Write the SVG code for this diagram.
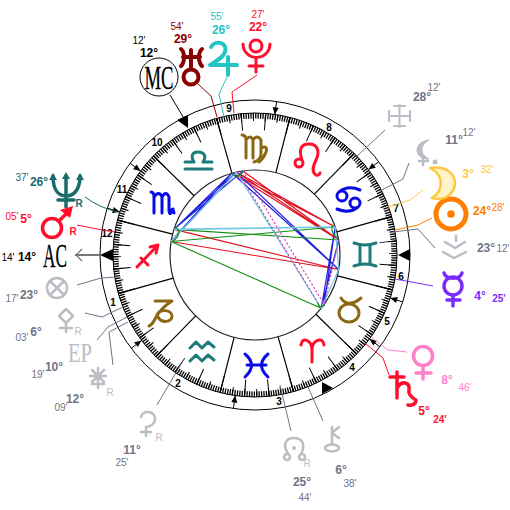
<svg xmlns="http://www.w3.org/2000/svg" width="510" height="510" viewBox="0 0 510 510">
<style>
text{font-family:"Liberation Sans",Arial,sans-serif;text-anchor:middle}
.d{font-size:12px;font-weight:bold}
.m{font-size:10px}
.h{font-size:10px;fill:#000;font-weight:bold}
.r{font-size:10px}
.cond{font-family:"Liberation Serif","Times New Roman",serif;font-size:33px;stroke-width:.3}
.ring{fill:none;stroke:#000;stroke-width:1}
.sp{fill:none;stroke-linecap:round;stroke-linejoin:round}
.lead{fill:none;stroke-width:1}
.asp{fill:none;stroke-width:1.2}
.gl{fill:none;stroke:#babdc4;stroke-width:2.5;stroke-linecap:round;stroke-linejoin:round}
.gt{fill:#707488}
.lg{fill:#babdc4}
.brown{fill:none;stroke:#8b6914;stroke-width:3;stroke-linecap:round;stroke-linejoin:round}
.rd{fill:none;stroke:#ff0f2d;stroke-width:3;stroke-linecap:round;stroke-linejoin:round}
.bl{fill:none;stroke:#0a0ae6;stroke-width:3;stroke-linecap:round;stroke-linejoin:round}
.tl{fill:none;stroke:#1f7a7a;stroke-width:3;stroke-linecap:round;stroke-linejoin:round}
</style>
<rect width="510" height="510" fill="#fff"/>
<g id="wheel">
<circle class="ring" cx="255" cy="255" r="155"/>
<circle class="ring" cx="255" cy="255" r="142"/>
<circle cx="255" cy="255" r="85" fill="none" stroke="#222" stroke-width="1.2"/>
<circle cx="255" cy="255" r="139.2" fill="none" stroke="#000" stroke-width="5.6" stroke-dasharray="1.3 1.1295" stroke-dashoffset="0.65" transform="rotate(-0.77 255 255)"/>
<circle cx="255" cy="255" r="138" fill="none" stroke="#000" stroke-width="8" stroke-dasharray="1 11.0427" stroke-dashoffset="0.5" transform="rotate(-0.77 255 255)"/>
<circle cx="255" cy="255" r="133.500" fill="none" stroke="#000" stroke-width="17" stroke-dasharray="1 22.2988" stroke-dashoffset="0.5" transform="rotate(-5.77 255 255)"/>
<path d="M336.8 231.9L391.7 216.4M314.3 194.1L354.1 153.3M275.9 172.6L289.9 117.4M231.9 173.2L216.4 118.3M194.1 195.7L153.3 155.9M172.6 234.1L117.4 220.1M173.2 278.1L118.3 293.6M195.7 315.9L155.9 356.7M234.1 337.4L220.1 392.6M278.1 336.8L293.6 391.7M315.9 314.3L356.7 354.1M337.4 275.9L392.6 289.9" fill="none" stroke="#000" stroke-width="1.2"/>
<path d="M100 255L113 249V261Z M177 120L188 115V128Z M398 255L410 249V261Z M333 388L322 382V394Z" fill="#000"/>
<path fill="none" stroke="#000" stroke-width="1" d="M276.600 101.500L274.800 114.400M233.400 408.500L235.200 395.600M130 163.200L140.500 170.900M380 346.800L369.500 339.100M107.300 208.100L119.700 212M402.700 301.900L390.300 298M378.800 161.700L368.400 169.500M131.200 348.300L141.600 340.500"/>
<path fill="#000" d="M274.800 114.400L278.700 107.900L272.700 107.100ZM235.200 395.600L231.300 402.100L237.300 402.900ZM140.500 170.900L136.700 164.400L133.100 169.200ZM369.500 339.100L373.300 345.600L376.900 340.800ZM119.700 212L113.900 207.100L112.100 212.900ZM390.300 298L396.100 302.900L397.900 297.100ZM368.400 169.500L375.800 167.700L372.200 162.900ZM141.600 340.500L134.200 342.300L137.800 347.100Z"/>
<text class="h" x="229" y="112">9</text><text class="h" x="157" y="146">10</text><text class="h" x="122" y="193">11</text><text class="h" x="107" y="237">12</text><text class="h" x="113" y="306">1</text><text class="h" x="178" y="387">2</text><text class="h" x="279" y="405">3</text><text class="h" x="352" y="371">4</text><text class="h" x="387" y="325">5</text><text class="h" x="401" y="280">6</text><text class="h" x="396" y="212">7</text><text class="h" x="329" y="131">8</text>
</g>
<g id="signs">
<path id="sign-sagittarius" class="rd" d="M137 267L157 246M150 247L158 245L156 253M141 258L148 265"/>
<path id="sign-scorpio" class="bl" d="M151 192Q154 192 154 197V213M154 197Q159 190 162 197V213M162 197Q166 190 169 197V211Q170 217 173 209M169 211L173 209L174 213"/>
<path id="sign-libra" class="tl" d="M185 169H212M185 162H194C190 155 193 152 198 152C204 152 207 156 203 162H212"/>
<path id="sign-virgo" class="brown" d="M242 135Q246 135 246 140V158M246 140Q250 134 253 140V158M253 140Q257 134 261 140V154Q261 160 254 162M261 148Q268 145 266 152Q264 158 259 162"/>
<path id="sign-leo" class="rd" d="M302 160C298 148 302 144 309 144C318 144 320 152 316 160C313 166 311 172 316 175Q319 176 320 173M303 163A4 4 0 1 1 295 163A4 4 0 1 1 303 163"/>
<path id="sign-cancer" class="bl" d="M337 196A5 5 0 1 0 347 196A5 5 0 1 0 337 196M339 192C345 187 353 187 360 190M350 203A5 5 0 1 0 360 203A5 5 0 1 0 350 203M358 207C352 212 344 212 337 209"/>
<path id="sign-gemini" class="tl" d="M354 243Q365 247 376 243M354 266Q365 262 376 266M360 245V264M370 245V264"/>
<path id="sign-taurus" class="brown" d="M359 313A10 9 0 1 1 339 313A10 9 0 1 1 359 313M341 298C345 305 353 305 361 298"/>
<path id="sign-aries" class="rd" d="M312 362V350C312 340 302 336 301 345M312 350C312 340 323 336 324 345"/>
<path id="sign-pisces" class="bl" d="M245 354Q258 365 245 377M268 354Q255 365 268 377M247 365H266"/>
<path id="sign-aquarius" class="tl" d="M190 348L196 342L202 348L208 342L214 347M190 361L196 355L202 361L208 355L214 360"/>
<path id="sign-capricorn" class="brown" d="M155 301H172C164 306 158 313 155 319Q152 325 149 326M157 315C160 308 172 310 172 316C172 323 161 323 158 317"/>
</g>
<g id="connectors">
<g id="leaders">
<path class="lead" stroke="#000" d="M170 95L188 125"/>
<path class="lead" stroke="#8b0000" d="M198 84L211 96L217 117"/>
<path class="lead" stroke="#22c4c4" d="M227 77L219 94L224 117"/>
<path class="lead" stroke="#ff0f2d" d="M257 75L232 92L234 113"/>
<path class="lead" stroke="#1a6b6b" d="M85 197Q100 208 118 212"/>
<path class="lead" stroke="#ff0f2d" d="M77 225L97 229L115 232"/>
<path d="M75 255H100" stroke="#777" stroke-width="2" fill="none"/>
<path d="M82 249L76 255L82 261" stroke="#777" stroke-width="1.200" fill="none"/>
<path class="lead" stroke="#707488" d="M77 285L101 278L118 277"/>
<path class="lead" stroke="#707488" d="M85 313L102 317L123 307"/>
<path class="lead" stroke="#707488" d="M97 340L108 327L127 317"/>
<path class="lead" stroke="#707488" d="M113 365L109 332L128 322"/>
<path class="lead" stroke="#707488" d="M157 405L184 359"/>
<path class="lead" stroke="#707488" d="M291 431L280 385"/>
<path class="lead" stroke="#707488" d="M323 421L308 387"/>
<path class="lead" stroke="#ff80c8" d="M407 352L388 350L372 338"/>
<path class="lead" stroke="#ff0f2d" d="M389 375L383 358L366 344"/>
<path class="lead" stroke="#7a2cff" d="M433 286L395 279"/>
<path class="lead" stroke="#707488" d="M435 248L418 229L393 232"/>
<path class="lead" stroke="#ff8000" d="M432 218L418 225L395 230"/>
<path class="lead" stroke="#ffc83c" d="M423 190L410 200L388 207"/>
<path class="lead" stroke="#707488" d="M409 163L403 179L380 191"/>
<path class="lead" stroke="#707488" d="M385 130L356 157"/>
</g>
<g id="aspects">
<g class="asp" stroke="#e01020"><path d="M232 173L335.200 227M236.300 172.100L335.200 227M232 173L338.700 240M236.300 172.100L338.700 240M242.900 170.900L338.700 240M174 229.400L338.700 269.500M171 241.500L338.700 269.500"/></g>
<g class="asp" stroke="#2020e0"><path d="M232 173L174 229.400M236.300 172.100L174 229.400M242.900 170.900L174 229.400M232 173L171 241.500M236.300 172.100L171 241.500M232 173L338.700 269.500M236.300 172.100L338.700 269.500M335.200 227L321.200 308.300M335.200 227L324.200 304.400M338.700 240L321.200 308.300"/></g>
<g class="asp" stroke="#109010"><path d="M174 229.400L338.700 240M171 241.500L335.200 227M171 241.500L321.200 308.300"/></g>
<g class="asp" stroke="#70c8e8"><path d="M174 229.400L335.200 227" stroke-width="1.600"/><path d="M236.300 172.100L171 241.500M236.300 172.100L321.200 308.300M338.700 269.500L321.200 308.300M335.200 227L338.700 269.500"/></g>
<g class="asp" stroke="#d040b0" stroke-dasharray="2 2"><path d="M242.900 170.900L324.200 304.400M238 172L321.200 308.300M338.700 240L324.200 304.400"/></g>
<g class="asp" stroke="#109010"><path d="M176 227Q182 235 173 241M232 173Q236 180 243 172M332 226Q331 235 338 238M318 303Q318 309 325 305"/></g>
</g>
</g>
<g id="mc"><circle cx="159" cy="77" r="19" fill="#fff" stroke="#000" stroke-width="1"/><text class="cond" x="159" y="88.500" textLength="29" lengthAdjust="spacingAndGlyphs" fill="#000" stroke="#000">MC</text><text class="d" x="149" y="57" fill="#000">12°</text><text class="m" x="139" y="44" fill="#000">12'</text></g>
<g id="uranus"><path class="sp" stroke="#8b0000" stroke-width="4" d="M181 49C185 52 185 62 181 66M202 49C198 52 198 62 202 66M183 57H200M191 50V69"/><circle cx="191" cy="77" r="7.500" fill="none" stroke="#8b0000" stroke-width="4"/><text class="d" x="183" y="43" fill="#8b0000">29°</text><text class="m" x="177" y="30" fill="#8b0000">54'</text></g>
<g id="jupiter"><path class="sp" stroke="#22c4c4" stroke-width="4" d="M211 47C216 39 228 43 225 52C223 58 215 62 210 65H237M228 57V75"/><text class="d" x="221" y="34" fill="#22c4c4">26°</text><text class="m" x="217" y="20" fill="#22c4c4">55'</text></g>
<g id="pluto"><circle cx="256" cy="46" r="6" fill="none" stroke="#ff0f2d" stroke-width="3"/><path class="sp" stroke="#ff0f2d" stroke-width="3" d="M243 44A13 13 0 0 0 270 44M256 58V72M249 66H263"/><text class="d" x="258" y="31" fill="#ff0f2d">22°</text><text class="m" x="258" y="18" fill="#ff0f2d">27'</text></g>
<g id="neptune"><path class="sp" stroke="#1a6b6b" stroke-width="3.500" d="M53 176C53 192 60 196 66 196C72 196 80 192 80 176M66 176V207M58 200H74"/><path d="M53 173L49 180H57ZM66 172L62 179H70ZM80 173L76 180H84Z" fill="#1a6b6b"/><text class="r" x="79" y="207" fill="#1a6b6b" font-weight="bold">R</text><text class="d" x="39" y="186" fill="#1a6b6b">26°</text><text class="m" x="22" y="181" fill="#1a6b6b">37'</text></g>
<g id="mars"><circle cx="52" cy="228" r="9.500" fill="none" stroke="#ff0f2d" stroke-width="3.500"/><path class="sp" stroke="#ff0f2d" stroke-width="3.500" d="M60 220L69 211"/><path d="M73 206L60 210L70 218Z" fill="#ff0f2d"/><text class="r" x="73" y="235" fill="#ff0f2d" font-weight="bold">R</text><text class="d" x="26" y="223" fill="#ff0f2d">5°</text><text class="m" x="12" y="220" fill="#ff0f2d">05'</text></g>
<g id="ac"><text class="cond" x="55" y="267" textLength="24" lengthAdjust="spacingAndGlyphs" fill="#000" stroke="#000">AC</text><text class="d" x="27" y="261" fill="#000">14°</text><text class="m" x="8" y="261" fill="#000">14'</text></g>
<g id="fortune"><circle cx="57" cy="288" r="10" class="gl"/><path class="gl" d="M50 281L64 295M64 281L50 295"/><text class="d gt" x="29" y="299">23°</text><text class="m gt" x="12" y="302">17'</text></g>
<g id="vesta"><path class="gl" d="M66 309L73 316L66 323L59 316ZM66 323V332M60 328H72"/><text class="r lg" x="78" y="335">R</text><text class="d gt" x="36" y="336">6°</text><text class="m gt" x="22" y="341">03'</text></g>
<g id="ep"><text class="cond lg" x="80" y="362" style="font-size:27px" textLength="24" lengthAdjust="spacingAndGlyphs">EP</text><text class="d gt" x="54" y="371">10°</text><text class="m gt" x="38" y="378">19'</text></g>
<g id="ceres"><path class="gl" d="M98 368V388M90 376H106M92 370L104 382M104 370L92 382M92 384H104"/><text class="r lg" x="110" y="396">R</text><text class="d gt" x="75" y="403">12°</text><text class="m gt" x="61" y="411">09'</text></g>
<g id="proserpina"><path class="gl" d="M141 417C143 409 155 411 155 419C155 425 148 427 146 427V436M141 432H151"/><text class="r lg" x="159" y="441">R</text><text class="d gt" x="132" y="454">11°</text><text class="m gt" x="122" y="466">25'</text></g>
<g id="node"><path class="gl" d="M288 454C281 442 288 438 294 438C300 438 307 442 301 454"/><circle class="gl" cx="287" cy="457" r="3"/><circle class="gl" cx="302" cy="457" r="3"/><circle cx="294" cy="448" r="2" class="lg"/><text class="r lg" x="307" y="467">R</text><text class="d gt" x="302" y="486">25°</text><text class="m gt" x="305" y="501">44'</text></g>
<g id="chiron"><path class="gl" d="M332 427V444M339 427L332 433L339 438"/><ellipse class="gl" cx="332" cy="448" rx="7" ry="3.500"/><text class="d gt" x="341" y="474">6°</text><text class="m gt" x="350" y="487">38'</text></g>
<g id="saturn"><path class="sp" stroke="#ff0f2d" stroke-width="3.500" d="M397 372V398M390 377H404M397 388C402 380 410 382 409 390C408 394 412 398 416 400C416 404 412 406 408 405"/><text class="d" x="424" y="415" fill="#ff0f2d">5°</text><text class="m" x="440" y="423" fill="#ff0f2d" font-weight="bold">24'</text></g>
<g id="venus"><circle cx="423" cy="356" r="9.500" fill="none" stroke="#ff80c8" stroke-width="3.500"/><path class="sp" stroke="#ff80c8" stroke-width="3.500" d="M423 366V379M416 373H431"/><text class="d" x="447" y="384" fill="#ff80c8">8°</text><text class="m" x="465" y="391" fill="#ff80c8">46'</text></g>
<g id="mercury"><circle cx="453" cy="286" r="9" fill="none" stroke="#7a2cff" stroke-width="3.500"/><path class="sp" stroke="#7a2cff" stroke-width="3.500" d="M444 273C446 280 460 280 462 273M453 295V306M447 300H460"/><text class="d" x="480" y="300" fill="#7a2cff">4°</text><text class="m" x="499" y="302" fill="#7a2cff" font-weight="bold">25'</text></g>
<g id="vertex"><path class="gl" d="M445 242L455 248L465 242M443 252L454 258L466 252M456 236V241"/><text class="d gt" x="486" y="252">23°</text><text class="m gt" x="503" y="252">12'</text></g>
<g id="sun"><circle cx="451" cy="214" r="15" fill="none" stroke="#ff8000" stroke-width="5"/><circle cx="451" cy="214" r="3.800" fill="#ff8000"/><text class="d" x="482" y="215" fill="#ff8000">24°</text><text class="m" x="498" y="211" fill="#ff8000">28'</text></g>
<g id="moon"><path d="M430 168C447 165 455 175 455 183C455 192 446 202 432 198C442 192 446 176 430 168Z" fill="#fff3c8" stroke="#ffc83c" stroke-width="2.500" stroke-linejoin="round"/><text class="d" x="468" y="178" fill="#ffc83c" font-weight="normal">3°</text><text class="m" x="487" y="173" fill="#ffc83c">32'</text></g>
<g id="lilith"><path d="M429 140C420 141 417 146 417 150C417 155 421 159 429 159C424 156 422 153 422 150C422 146 424 143 429 140Z" fill="#babdc4" stroke="#babdc4"/><path class="gl" d="M423 158V165M419 161H428"/><circle cx="435" cy="162" r="2.500" class="lg"/><text class="d gt" x="454" y="144">11°</text><text class="m gt" x="469" y="136">12'</text></g>
<g id="cross"><path class="gl" style="stroke-width:2" d="M389 116H410M399.500 105V127M389 111V121M410 111V121M394 106H405M394 126H405"/><text class="d gt" x="422" y="101">28°</text><text class="m gt" x="434" y="91">12'</text></g>
</svg>
